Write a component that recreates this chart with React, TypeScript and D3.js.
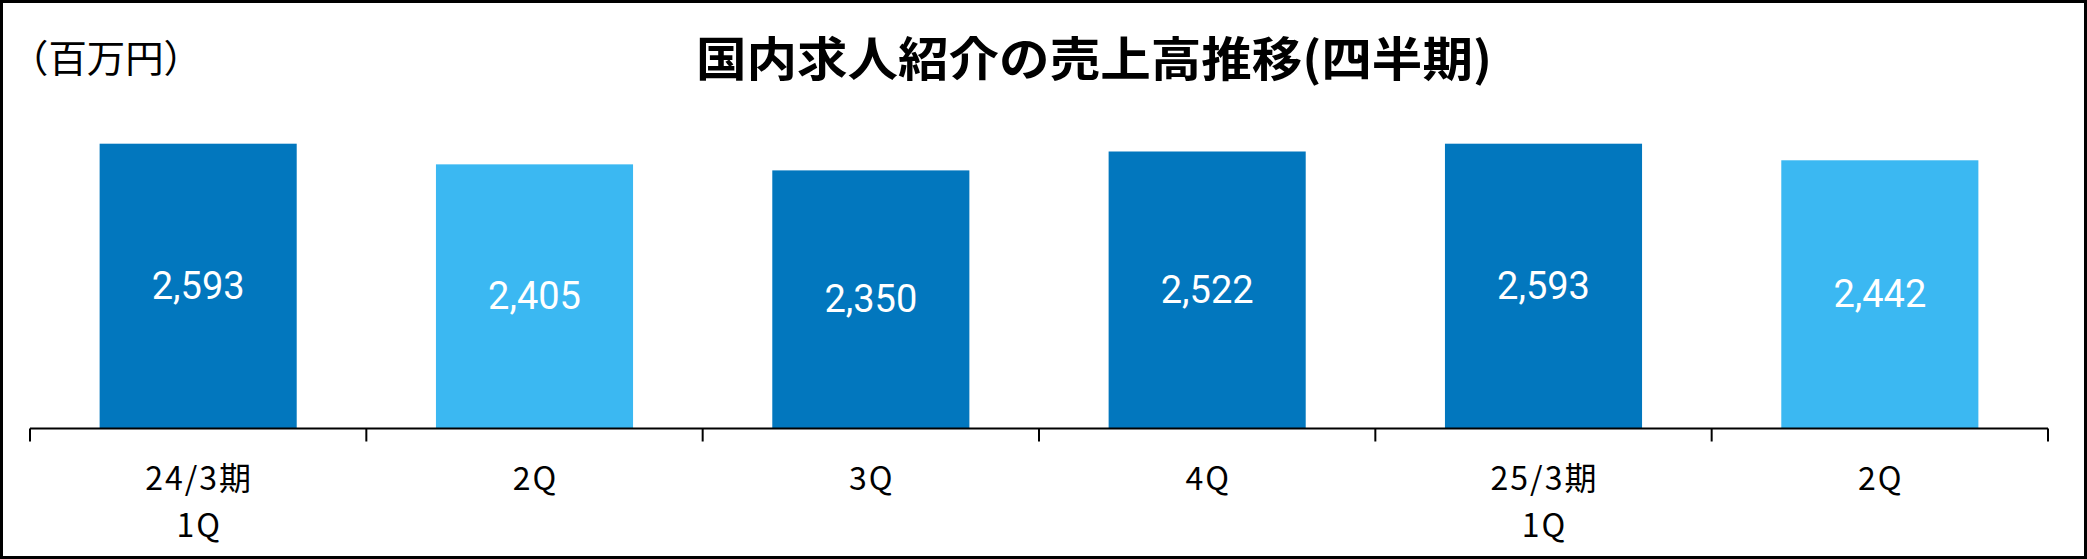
import React from "react";
import * as d3 from "d3";

const categories = ["24/3期\n1Q", "2Q", "3Q", "4Q", "25/3期\n1Q", "2Q"];
const sales = [2593, 2405, 2350, 2522, 2593, 2442];
const barTone = ["dark", "light", "dark", "dark", "dark", "light"];
const title = "国内求人紹介の売上高推移(四半期)";
const unitLabel = "（百万円）";

const W = 2087;
const H = 559;
const COLORS: Record<string, string> = { dark: "#0277BE", light: "#3BB8F2" };
const JP = "'Noto Sans CJK JP', 'Noto Sans', sans-serif";

export default function App() {
  const x = d3
    .scaleBand<number>()
    .domain(d3.range(categories.length))
    .range([30, 2048])
    .paddingInner(0.414)
    .paddingOuter(0.207);
  const y = d3.scaleLinear().domain([0, 3000]).range([428.5, 99]);
  const step = x.step();
  const x0 = 30;
  const baseY = y(0);

  return (
    <svg
      width={W}
      height={H}
      style={{ position: "absolute", left: 0, top: 0, display: "block", background: "#fff" }}
    >
      <rect x={1.5} y={1.5} width={W - 3} height={H - 3} fill="#fff" stroke="#000" strokeWidth={3} />
      <text
        x={10}
        y={55}
        fontFamily={JP}
        fontSize={38}
        dominantBaseline="central"
        textLength={192}
        lengthAdjust="spacingAndGlyphs"
        fill="#000"
      >
        {unitLabel}
      </text>
      <text
        x={696}
        y={55}
        fontFamily={JP}
        fontSize={47}
        fontWeight={700}
        dominantBaseline="central"
        textLength={796}
        lengthAdjust="spacingAndGlyphs"
        fill="#000"
      >
        {title}
      </text>
      {sales.map((v, i) => (
        <g key={i}>
          <rect
            x={x(i)}
            y={y(v)}
            width={x.bandwidth()}
            height={baseY - y(v)}
            fill={COLORS[barTone[i]]}
          />
          <text
            x={(x(i) as number) + x.bandwidth() / 2}
            y={(y(v) + baseY) / 2}
            textAnchor="middle"
            dominantBaseline="central"
            fontFamily="Roboto, 'Liberation Sans', sans-serif"
            fontSize={38}
            fill="#fff"
          >
            {d3.format(",")(v)}
          </text>
        </g>
      ))}
      <line x1={x0} x2={x0 + step * categories.length} y1={baseY} y2={baseY} stroke="#000" strokeWidth={2} />
      {d3.range(categories.length + 1).map((i) => (
        <line
          key={i}
          x1={x0 + step * i}
          x2={x0 + step * i}
          y1={baseY}
          y2={baseY + 13}
          stroke="#000"
          strokeWidth={2}
        />
      ))}
      {categories.map((c, i) => (
        <text
          key={i}
          x={(x(i) as number) + x.bandwidth() / 2}
          textAnchor="middle"
          fontFamily={JP}
          fontSize={32}
          letterSpacing={2}
          fill="#000"
        >
          {c.split("\n").map((line, j) => (
            <tspan key={j} x={(x(i) as number) + x.bandwidth() / 2 + 1} y={476 + j * 47} dominantBaseline="central">
              {line}
            </tspan>
          ))}
        </text>
      ))}
    </svg>
  );
}
